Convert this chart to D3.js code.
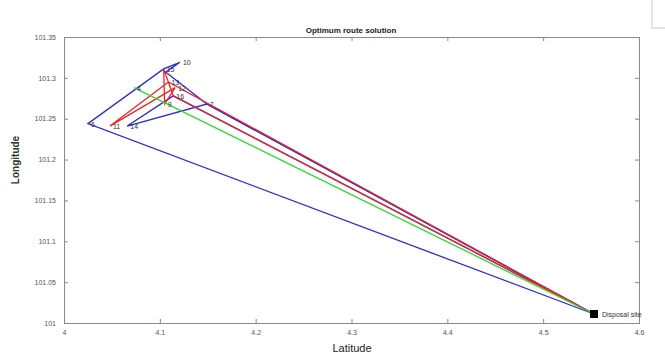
<!DOCTYPE html>
<html>
<head>
<meta charset="utf-8">
<script src="https://cdn.jsdelivr.net/npm/d3@7"></script>
<style>
  body { margin: 0; background: #fff; }
  svg { display: block; }
</style>
</head>
<body>
<script>
// collection points (lat / lon), "D" is the disposal site, "a" is an unlabelled bend
const nodeIds  = ["D", "6", "11", "14", "4", "15", "10", "a", "13", "12", "16", "9", "7"]
const nodeLat  = [4.553, 4.025, 4.048, 4.066, 4.073, 4.104, 4.121, 4.106, 4.109, 4.116, 4.114, 4.105, 4.149]
const nodeLon  = [101.011, 101.244, 101.241, 101.241, 101.288, 101.311, 101.319, 101.307, 101.295, 101.288, 101.278, 101.268, 101.268]

// routes of each truck, as node id sequences
const routeColors = ["#2a2ad8", "#2a2ad8", "#f02424", "#2bdc2b"]
const routes = [
    ["D", "6", "15", "10", "a", "7", "D"],
    ["D", "16", "14", "7", "D"],
    ["D", "13", "11", "12", "9", "15", "16", "D"],
    ["D", "4", "D"]
]

const xTicks = [4, 4.1, 4.2, 4.3, 4.4, 4.5, 4.6]
const yTicks = [101, 101.05, 101.1, 101.15, 101.2, 101.25, 101.3, 101.35]

const W = 665, H = 356
const mLeft = 64, mRight = 639, mTop = 37, mBottom = 323

const svg = d3.select("body").append("svg")
    .attr("width", W)
    .attr("height", H)
    .style("font-family", "'Liberation Sans', Arial, sans-serif")

const x = d3.scaleLinear().domain([4, 4.6]).range([mLeft, mRight])
const y = d3.scaleLinear().domain([101, 101.35]).range([mBottom, mTop])

const nodes = {}
nodeIds.forEach((id, i) => nodes[id] = { id: id, lat: nodeLat[i], lon: nodeLon[i] })

// little window corner at the top right of the screenshot
svg.append("path")
    .attr("d", "M652,0 V28 H665")
    .attr("fill", "none")
    .attr("stroke", "#c8c8c8")

// axes, matlab style with ticks pointing inward on all four sides
const axisCol = "#8a8a8a"
svg.append("g")
    .attr("transform", `translate(0,${mBottom})`)
    .call(d3.axisBottom(x).tickValues(xTicks).tickSize(-4).tickPadding(7).tickFormat(d3.format("")))
svg.append("g")
    .attr("transform", `translate(0,${mTop})`)
    .call(d3.axisTop(x).tickValues(xTicks).tickSize(-4).tickFormat(""))
svg.append("g")
    .attr("transform", `translate(${mLeft},0)`)
    .call(d3.axisLeft(y).tickValues(yTicks).tickSize(-4).tickPadding(8).tickFormat(d3.format("")))
svg.append("g")
    .attr("transform", `translate(${mRight},0)`)
    .call(d3.axisRight(y).tickValues(yTicks).tickSize(-4).tickFormat(""))

svg.selectAll(".domain").attr("stroke", axisCol)
svg.selectAll(".tick line").attr("stroke", axisCol)
svg.selectAll(".tick text").attr("fill", "#555").style("font-size", "7px")

// routes
const line = d3.line()
    .x(d => x(nodes[d].lat))
    .y(d => y(nodes[d].lon))

svg.append("g")
    .selectAll("path")
    .data(routes)
    .enter()
    .append("path")
    .attr("d", d => line(d))
    .attr("fill", "none")
    .attr("stroke", (d, i) => routeColors[i])
    .attr("stroke-width", 1.3)
    .attr("stroke-linejoin", "miter")

// point labels
svg.append("g")
    .selectAll("text")
    .data(nodeIds.filter(d => d != "D" && d != "a"))
    .enter()
    .append("text")
    .attr("x", d => x(nodes[d].lat) + 3)
    .attr("y", d => y(nodes[d].lon) + 3)
    .text(d => d)
    .style("font-size", "7px")
    .attr("fill", "#333")

// disposal site
svg.append("rect")
    .attr("x", x(nodes.D.lat) - 4)
    .attr("y", y(nodes.D.lon) - 4)
    .attr("width", 8)
    .attr("height", 8)
    .attr("fill", "#000")
svg.append("text")
    .attr("x", x(nodes.D.lat) + 8)
    .attr("y", y(nodes.D.lon) + 3)
    .text("Disposal site")
    .style("font-size", "7px")
    .attr("fill", "#333")

svg.append("text")
    .attr("x", 351)
    .attr("y", 33)
    .attr("text-anchor", "middle")
    .text("Optimum route solution")
    .style("font-size", "8px")
    .style("font-weight", "bold")
    .attr("fill", "#222")

svg.append("text")
    .attr("x", 352)
    .attr("y", 352)
    .attr("text-anchor", "middle")
    .text("Latitude")
    .style("font-size", "11px")
    .attr("fill", "#222")

svg.append("text")
    .attr("transform", "translate(19,160) rotate(-90)")
    .attr("text-anchor", "middle")
    .text("Longitude")
    .style("font-size", "10px")
    .style("font-weight", "bold")
    .attr("fill", "#333")
</script>
</body>
</html>
